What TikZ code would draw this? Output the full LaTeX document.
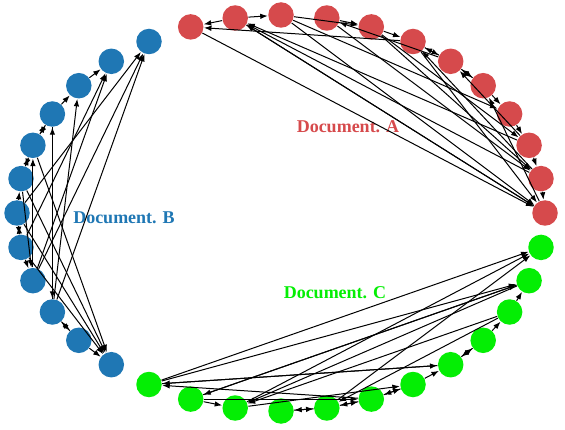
\documentclass[tikz,border=0pt]{standalone}
\usepackage{fontspec}
\setmainfont{Liberation Serif}
\usetikzlibrary{arrows.meta}
\definecolor{docA}{RGB}{214,74,76}
\definecolor{docB}{RGB}{31,119,180}
\definecolor{docC}{RGB}{4,238,4}

\begin{document}
\begin{tikzpicture}[x=1pt, y=1pt, >={Latex[length=7.5pt, width=5.5pt]}, line width=1pt]
\tikzset{dot/.style={circle, inner sep=0pt, minimum size=25.5pt}, nodeA/.style={dot, fill=docA}, nodeB/.style={dot, fill=docB}, nodeC/.style={dot, fill=docC}, lbl/.style={font=\bfseries\fontsize{18}{20}\selectfont}}
\useasboundingbox (0,0) rectangle (565,429);
% Document A
\node[nodeA] (A1) at (190.7,402.1) {}; \node[nodeA] (A2) at (235.2,411.0) {}; \node[nodeA] (A3) at (281.0,414.0) {};
\node[nodeA] (A4) at (326.8,411.0) {}; \node[nodeA] (A5) at (371.3,402.1) {}; \node[nodeA] (A6) at (413.0,387.5) {};
\node[nodeA] (A7) at (450.7,367.7) {}; \node[nodeA] (A8) at (483.2,343.3) {}; \node[nodeA] (A9) at (509.6,315.0) {};
\node[nodeA] (A10) at (529.1,283.7) {}; \node[nodeA] (A11) at (541.0,250.4) {}; \node[nodeA] (A12) at (545.0,216.0) {};
% Document B
\node[nodeB] (B1) at (149.0,387.5) {}; \node[nodeB] (B2) at (111.3,367.7) {}; \node[nodeB] (B3) at (78.8,343.3) {};
\node[nodeB] (B4) at (52.4,315.0) {}; \node[nodeB] (B5) at (32.9,283.7) {}; \node[nodeB] (B6) at (21.0,250.4) {};
\node[nodeB] (B7) at (17.0,216.0) {}; \node[nodeB] (B8) at (21.0,181.6) {}; \node[nodeB] (B9) at (32.9,148.3) {};
\node[nodeB] (B10) at (52.4,117.0) {}; \node[nodeB] (B11) at (78.8,88.7) {}; \node[nodeB] (B12) at (111.3,64.3) {};
% Document C
\node[nodeC] (C1) at (149.0,44.5) {}; \node[nodeC] (C2) at (190.7,29.9) {}; \node[nodeC] (C3) at (235.2,21.0) {};
\node[nodeC] (C4) at (281.0,18.0) {}; \node[nodeC] (C5) at (326.8,21.0) {}; \node[nodeC] (C6) at (371.3,29.9) {};
\node[nodeC] (C7) at (413.0,44.5) {}; \node[nodeC] (C8) at (450.7,64.3) {}; \node[nodeC] (C9) at (483.2,88.7) {};
\node[nodeC] (C10) at (509.6,117.0) {}; \node[nodeC] (C11) at (529.1,148.3) {}; \node[nodeC] (C12) at (541.0,181.6) {};
% labels
\node[lbl, text=docA] (labA) at (348,302) {Document. A};
\node[lbl, text=docB] (labB) at (124,211) {Document. B};
\node[lbl, text=docC] (labC) at (335,136) {Document. C};
% edges A
\draw[->] (A2) -- (A1); \draw[->] (A6) -- (A1); \draw[->] (A2) -- (A3); \draw[->] (A7) -- (A4); \draw[->] (A4) -- (A5);
\draw[->] (A3) -- (A5); \draw[->] (A5) -- (A6); \draw[->] (A6) -- (A7); \draw[->] (A7) -- (A6); \draw[->] (A7) -- (A8);
\draw[->] (A8) -- (A7); \draw[->] (A8) -- (A9); \draw[->] (A9) -- (A10); \draw[->] (A10) -- (A11); \draw[->] (A11) -- (A12);
\draw[->] (A10) -- (A2); \draw[->] (A11) -- (A2); \draw[->] (A12) -- (A2); \draw[->] (A2) -- (A12); \draw[->] (A1) -- (A12);
\draw[->] (A3) -- (A12); \draw[->] (A4) -- (A11); \draw[->] (A5) -- (A10); \draw[->] (A6) -- (A12); \draw[->] (A3) -- (A9);
\draw[->] (A5) -- (A11); \draw[->] (A10) -- (A7); \draw[->] (A11) -- (A6); \draw[->] (A12) -- (A8);
% edges B
\draw[->] (B3) -- (B2); \draw[->] (B4) -- (B3); \draw[->] (B5) -- (B4); \draw[->] (B4) -- (B5); \draw[->] (B5) -- (B6);
\draw[->] (B6) -- (B5); \draw[->] (B7) -- (B6); \draw[->] (B7) -- (B8); \draw[->] (B8) -- (B7); \draw[->] (B8) -- (B9);
\draw[->] (B10) -- (B11); \draw[->] (B11) -- (B10); \draw[->] (B11) -- (B12); \draw[->] (B9) -- (B1); \draw[->] (B10) -- (B1);
\draw[->] (B7) -- (B1); \draw[->] (B8) -- (B2); \draw[->] (B9) -- (B2); \draw[->] (B10) -- (B3); \draw[->] (B10) -- (B4);
\draw[->] (B9) -- (B5); \draw[->] (B6) -- (B12); \draw[->] (B5) -- (B12); \draw[->] (B7) -- (B12); \draw[->] (B8) -- (B12);
\draw[->] (B4) -- (B10); \draw[->] (B6) -- (B9);
% edges C
\draw[->] (C1) -- (C12); \draw[->] (C3) -- (C12); \draw[->] (C5) -- (C12); \draw[->] (C1) -- (C11); \draw[->] (C2) -- (C11);
\draw[->] (C11) -- (C2); \draw[->] (C10) -- (C3); \draw[->] (C11) -- (C3); \draw[->] (C1) -- (C8); \draw[->] (C8) -- (C1);
\draw[->] (C6) -- (C1); \draw[->] (C2) -- (C3); \draw[->] (C4) -- (C5); \draw[->] (C5) -- (C4); \draw[->] (C5) -- (C6);
\draw[->] (C6) -- (C5); \draw[->] (C6) -- (C7); \draw[->] (C7) -- (C6); \draw[->] (C7) -- (C8); \draw[->] (C8) -- (C9);
\draw[->] (C9) -- (C8); \draw[->] (C9) -- (C10); \draw[->] (C10) -- (C11); \draw[->] (C3) -- (C7); \draw[->] (C10) -- (C5);
\draw[->] (C2) -- (C6);
\end{tikzpicture}
\end{document}
